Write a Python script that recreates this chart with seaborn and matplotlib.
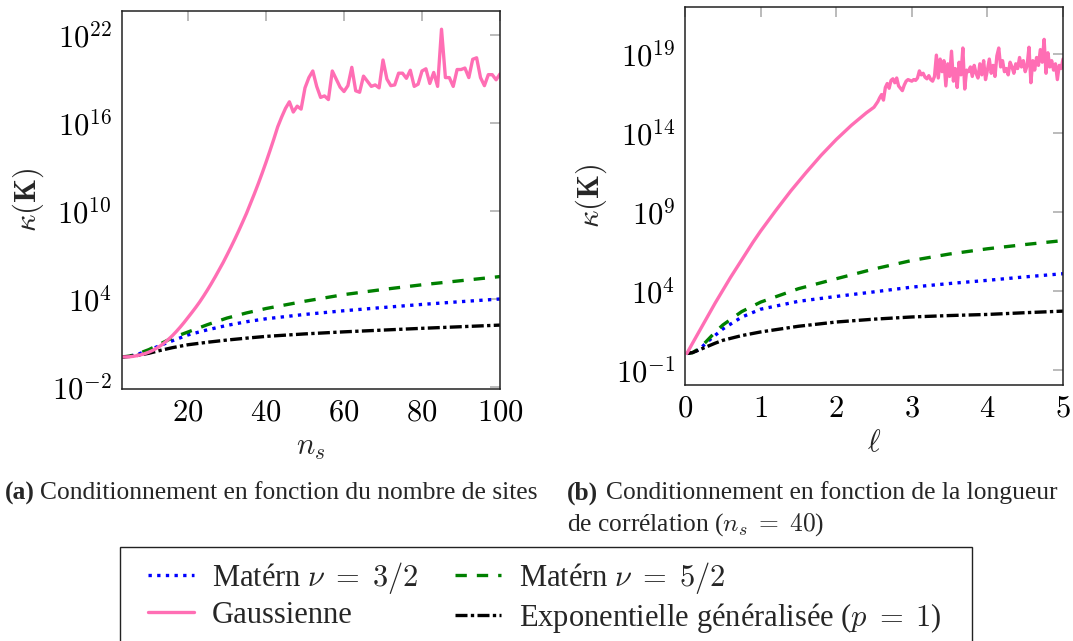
import matplotlib
matplotlib.use("Agg")
import matplotlib.pyplot as plt
import numpy as np
import seaborn as sns
from matplotlib.patches import Rectangle
from matplotlib.ticker import FuncFormatter, NullLocator

sns.set_theme(style="white")
plt.rcParams["font.family"] = ["Liberation Serif", "DejaVu Serif"]
plt.rcParams["mathtext.fontset"] = "cm"

# ------------------------------------------
# (a) condition number vs number of sites (log10 values)
# ------------------------------------------
ns_gauss = list(range(3, 101))
log_gauss_a = [
    0.05, 0.05, 0.06, 0.09, 0.14, 0.2, 0.28, 0.38, 0.5, 0.65,
    0.82, 1.02, 1.25, 1.5, 1.78, 2.08, 2.4, 2.74, 3.08, 3.43,
    3.8, 4.2, 4.62, 5.06, 5.52, 6.0, 6.48, 7.0, 7.53, 8.08,
    8.65, 9.24, 9.84, 10.5, 11.16, 11.85, 12.57, 13.32, 14.1, 14.9,
    15.74, 16.4, 17.0, 17.45, 16.75, 17.15, 16.95, 18.4, 19.1, 19.55,
    18.5, 17.75, 17.85, 17.6, 19.55, 19.0, 18.45, 18.15, 18.55, 19.8,
    18.2, 18.1, 19.2, 18.85, 18.5, 18.6, 18.4, 20.3, 19.0, 18.55,
    18.6, 19.4, 19.4, 19.05, 19.6, 18.5, 18.65, 19.55, 19.7, 18.7,
    19.45, 18.5, 22.4, 19.1, 19.1, 18.5, 19.65, 19.65, 19.75, 19.1,
    20.35, 20.45, 19.1, 18.55, 19.3, 19.3, 18.95, 19.35,
]
ns_smooth = [3, 5, 7, 10, 13, 16, 20, 25, 30, 35, 40, 50, 60, 70, 80, 90, 100]
log_mat32_a = [0.05, 0.1, 0.22, 0.5, 0.85, 1.15, 1.55, 1.9, 2.2, 2.45, 2.65,
               2.95, 3.2, 3.42, 3.63, 3.82, 4.0]
log_mat52_a = [0.05, 0.1, 0.25, 0.55, 0.95, 1.35, 1.75, 2.25, 2.7, 3.05, 3.35,
               3.85, 4.3, 4.65, 4.97, 5.25, 5.53]
log_exp_a = [0.05, 0.08, 0.15, 0.3, 0.5, 0.68, 0.88, 1.05, 1.2, 1.33, 1.45,
             1.62, 1.76, 1.88, 2.0, 2.11, 2.22]

# ------------------------------------------
# (b) condition number vs correlation length (log10 values)
# ------------------------------------------
ell_gauss_smooth = [0.025, 0.1, 0.2, 0.3, 0.4, 0.5, 0.6, 0.7, 0.8, 0.9, 1.0,
                    1.2, 1.4, 1.6, 1.8, 2.0, 2.2, 2.4, 2.5]
log_gauss_b_smooth = [0.05, 0.7, 1.55, 2.4, 3.25, 4.05, 4.85, 5.6, 6.35, 7.1, 7.8,
                      9.1, 10.35, 11.5, 12.6, 13.6, 14.5, 15.3, 15.65]
ell_gauss_noisy = list(np.linspace(2.55, 5.0, 99))
log_gauss_b_noisy = [
    16.0, 16.25, 16.45, 16.1, 16.9, 17.15, 16.85, 17.35, 17.45, 17.2,
    17.5, 17.0, 16.85, 16.7, 17.05, 17.3, 17.4, 17.35, 17.3, 17.4,
    17.35, 17.5, 17.95, 17.7, 17.8, 17.55, 17.45, 17.65, 17.4, 17.3,
    17.6, 18.95, 17.5, 18.7, 17.9, 18.6, 17.0, 18.4, 17.6, 19.2,
    17.3, 18.1, 16.9, 18.5, 17.7, 19.4, 16.8, 18.0, 17.9, 18.2,
    17.6, 18.3, 17.8, 17.5, 18.4, 17.7, 18.6, 17.4, 18.0, 18.7,
    17.8, 18.3, 17.6, 18.9, 19.4, 18.2, 18.6, 17.9, 18.1, 17.7,
    18.5, 18.2, 17.8, 18.4, 18.1, 18.8, 18.2, 18.6, 17.9, 18.3,
    19.45, 17.2, 18.6, 18.0, 18.8, 18.3, 19.3, 18.5, 19.95, 17.8,
    19.1, 18.2, 18.6, 18.0, 18.4, 17.4, 18.3, 18.1, 18.7,
]
ell_smooth = [0.025, 0.1, 0.2, 0.3, 0.4, 0.5, 0.75, 1.0, 1.5, 2.0, 2.5, 3.0, 3.5, 4.0, 4.5, 5.0]
log_mat32_b = [0.05, 0.08, 0.35, 0.8, 1.2, 1.6, 2.35, 2.85, 3.35, 3.66, 3.95,
               4.25, 4.48, 4.68, 4.9, 5.1]
log_mat52_b = [0.05, 0.1, 0.4, 0.9, 1.4, 1.85, 2.7, 3.3, 4.15, 4.78, 5.4,
               5.94, 6.35, 6.68, 6.95, 7.2]
log_exp_b = [0.05, 0.1, 0.3, 0.5, 0.7, 0.88, 1.18, 1.41, 1.77, 2.04, 2.22,
             2.36, 2.45, 2.52, 2.63, 2.73]

labels = {
    "m32": r"Matérn $\nu\;=\;3/2$",
    "m52": r"Matérn $\nu\;=\;5/2$",
    "gauss": "Gaussienne",
    "exp": r"Exponentielle généralisée ($p\;=\;1$)",
}
colors = {"m32": "#0000ff", "m52": "#008000", "gauss": "#ff6eb4", "exp": "black"}
styles = {
    "m32": (0, (1.0, 1.6)),
    "m52": (0, (3.4, 3.0)),
    "gauss": "-",
    "exp": (0, (3.6, 1.0, 1.0, 1.0)),
}
LW = 2.4

fig = plt.figure(figsize=(10.73, 6.41), dpi=100)
ax1 = fig.add_axes([0.1134, 0.3931, 0.3526, 0.5897])
ax2 = fig.add_axes([0.6384, 0.3994, 0.3523, 0.5897])


def draw(ax, x, logy, key):
    sns.lineplot(x=x, y=10.0 ** np.array(logy), ax=ax, color=colors[key],
                 linestyle=styles[key], lw=LW, label=labels[key],
                 estimator=None, sort=False)


draw(ax1, ns_smooth, log_mat32_a, "m32")
draw(ax1, ns_smooth, log_mat52_a, "m52")
draw(ax1, ns_smooth, log_exp_a, "exp")
draw(ax1, ns_gauss, log_gauss_a, "gauss")

draw(ax2, ell_smooth, log_mat32_b, "m32")
draw(ax2, ell_smooth, log_mat52_b, "m52")
draw(ax2, ell_smooth, log_exp_b, "exp")
draw(ax2, ell_gauss_smooth + ell_gauss_noisy,
     log_gauss_b_smooth + log_gauss_b_noisy, "gauss")

pow_fmt = FuncFormatter(lambda v, p: r"$10^{%d}$" % int(round(np.log10(v))))
num_fmt = FuncFormatter(lambda v, p: r"$%d$" % int(round(v)))

for ax in (ax1, ax2):
    ax.set_yscale("log")
    ax.yaxis.set_major_formatter(pow_fmt)
    ax.yaxis.set_minor_locator(NullLocator())
    ax.xaxis.set_major_formatter(num_fmt)
    ax.tick_params(which="major", direction="in", length=7.5, width=1.1,
                   color="#a8a8a8", labelcolor="black", labelsize=22,
                   top=True, right=True, pad=7)
    for s in ax.spines.values():
        s.set_color("#222222")
        s.set_linewidth(1.1)
    ax.set_ylabel(r"$\kappa(\mathbf{K})$", fontsize=22)
    ax.yaxis.set_label_coords(-0.2, 0.5)
    leg = ax.get_legend()
    if leg is not None:
        leg.remove()

ax1.set_xlim(3, 100)
ax1.set_xticks([20, 40, 60, 80, 100])
ax1.set_ylim(10 ** -2.14, 10 ** 23.64)
ax1.set_yticks([1e-2, 1e4, 1e10, 1e16, 1e22])
ax1.set_xlabel(r"$n_s$", fontsize=22, labelpad=4)

ax2.set_xlim(0, 5)
ax2.set_xticks([0, 1, 2, 3, 4, 5])
ax2.set_ylim(10 ** -1.95, 10 ** 22.0)
ax2.set_yticks([1e-1, 1e4, 1e9, 1e14, 1e19])
ax2.set_xlabel(r"$\ell$", fontsize=22, labelpad=4)

# captions
cap_fs = 18.4
fig.text(5 / 1073, 1 - 493 / 641, "(a)", fontsize=cap_fs, fontweight="bold", va="center")
fig.text(40 / 1073, 1 - 493 / 641, "Conditionnement en fonction du nombre de sites",
         fontsize=cap_fs, va="center")
fig.text(567 / 1073, 1 - 493 / 641, "(b)", fontsize=cap_fs, fontweight="bold", va="center")
fig.text(606 / 1073, 1 - 493 / 641, "Conditionnement en fonction de la longueur",
         fontsize=cap_fs, va="center")
fig.text(567 / 1073, 1 - 525 / 641, r"de corrélation ($n_s\;=\;40$)",
         fontsize=cap_fs, va="center")

# shared legend (frame drawn separately: it runs past the bottom edge)
fig.patches.append(Rectangle((120 / 1073, -0.1), (972 - 120) / 1073, 0.1 + 1 - 547 / 641,
                             transform=fig.transFigure, fill=False,
                             edgecolor="#222222", linewidth=1.0))
h, l = ax1.get_legend_handles_labels()
lookup = dict(zip(l, h))
order = [labels["m32"], labels["gauss"], labels["m52"], labels["exp"]]
leg = fig.legend([lookup[k] for k in order], order, loc="upper left",
                 bbox_to_anchor=(148 / 1073, 1 - 560 / 641), borderaxespad=0,
                 borderpad=0, ncol=2, fontsize=22, frameon=False,
                 handlelength=1.5, handletextpad=0.6, columnspacing=1.2,
                 labelspacing=0.15)

fig.savefig("out.png", dpi=100)
